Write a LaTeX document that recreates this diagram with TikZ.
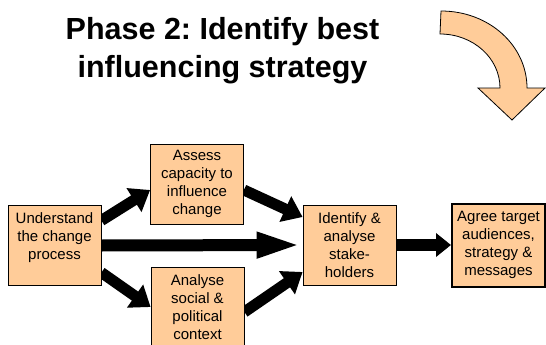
\documentclass[tikz,border=0pt]{standalone}
\usepackage{fontspec}
\setmainfont{Liberation Sans}
\frenchspacing
\usetikzlibrary{arrows.meta,backgrounds}
\definecolor{peach}{RGB}{255,204,153}

\begin{document}
\begin{tikzpicture}[x=1pt, y=-1pt,
                    every node/.style={font=\fontsize{15}{18}\selectfont, align=center},
                    box/.style={draw=black, line width=0.8pt, fill=peach, minimum width=93pt, minimum height=80pt, inner sep=0pt},
                    fat/.style={line width=11pt, -{Triangle[width=27pt,length=19pt]}}]

    \useasboundingbox (0,0) rectangle (546,345);
    \clip (0,0) rectangle (546,345);

    % Heading
    \node[font=\fontsize{30.5}{38.5}\selectfont\bfseries] (title) at (222.5,50.5) {Phase 2: Identify best\\influencing strategy};

    % Bent arrow pointing down to the next phase
    \filldraw[fill=peach, draw=black, line width=0.8pt]
        (441,11) .. controls (489,11) and (527,45.5) .. (527,88) -- (545,88) -- (512,120) -- (478,88) -- (500,88)
        .. controls (500,58) and (473,34) .. (440,34) -- cycle;

    % Define nodes
    \node[box] (U) at (54.5,245.5) {Understand\\the change\\process\\\mbox{}}; % Start
    \node[box] (A) at (197,184) {Assess\\capacity to\\influence\\change}; % Upper branch
    \node[box] (S) at (197.5,307) {Analyse\\social \&\\political\\context}; % Lower branch
    \node[box] (I) at (349.5,245) {Identify \&\\analyse\\stake-\\holders}; % Join
    \node[box, line width=2pt, minimum height=83pt] (T) at (498.5,245) {Agree target\\audiences,\\strategy \&\\messages}; % Result

    % Define edges
    \begin{scope}[on background layer]
        \draw[fat] ([yshift=25pt]U.east) -- ([yshift=-6pt]A.west);
        \draw[fat] ([yshift=-27pt]U.east) -- (S.west);
        \draw[fat] ([yshift=-6pt]A.east) -- ([yshift=28pt]I.west);
        \draw[fat] ([yshift=-5pt]S.east) -- ([yshift=-27pt]I.west);
        \draw[line width=12pt, -{Triangle[width=23pt,length=46pt]}] (U.east) -- (I.west);
        \draw[line width=12pt, -{Triangle[width=23pt,length=15pt]}] (I.east) -- (T.west);
    \end{scope}
\end{tikzpicture}
\end{document}
